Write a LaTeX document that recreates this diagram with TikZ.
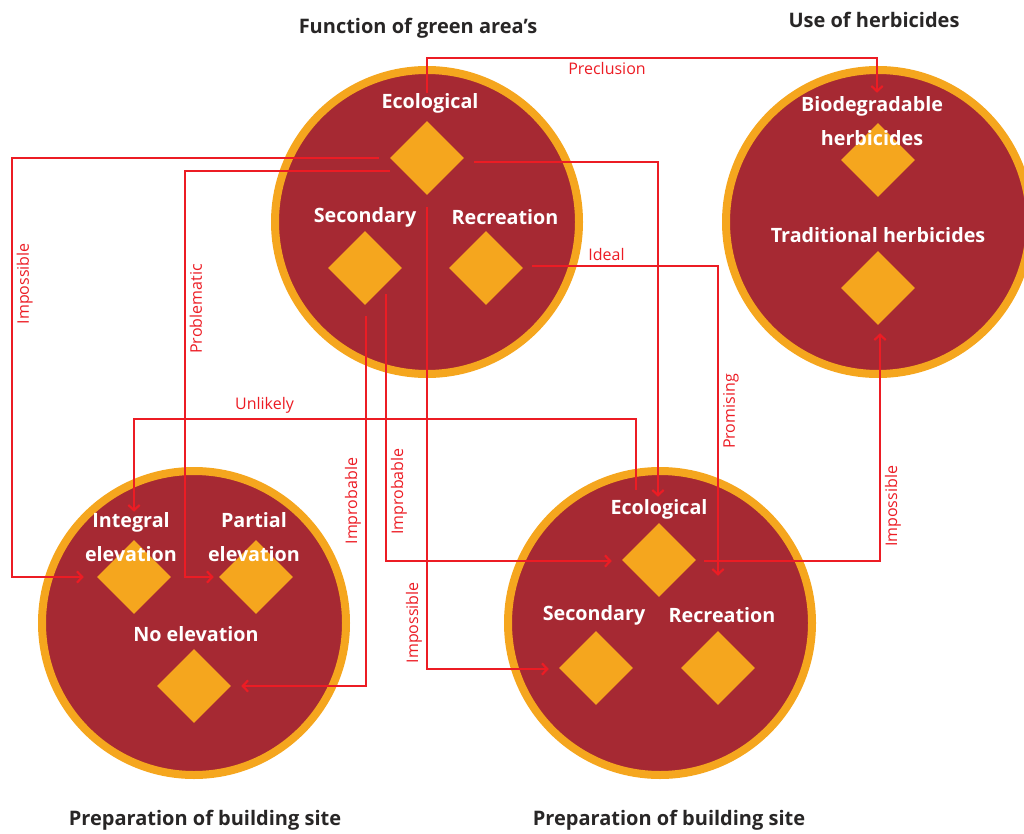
\documentclass[tikz,border=0pt]{standalone}
\usepackage{fontspec}
\setmainfont{Open Sans}
\usetikzlibrary{shapes.geometric,arrows.meta,calc}
\definecolor{wine}{RGB}{166,41,51}
\definecolor{amber}{RGB}{245,166,30}
\definecolor{signal}{RGB}{236,28,36}
\definecolor{ink}{RGB}{40,38,38}
\tikzset{
	ring/.style={circle, fill=wine, draw=amber, line width=6pt, minimum size=228pt, inner sep=0pt},
	gem/.style={diamond, fill=amber, minimum size=55.5pt, inner sep=0pt},
	tag/.style={text=white, font=\fontsize{14.8}{26}\selectfont\bfseries, align=center},
	heading/.style={text=ink, font=\fontsize{15}{16}\selectfont\bfseries},
	link/.style={draw=signal, line width=1.6pt, -{Straight Barb[length=4pt,width=8.5pt]}},
	note/.style={text=signal, font=\fontsize{12}{13}\selectfont, inner sep=3pt},
}

\begin{document}
\begin{tikzpicture}[x=0.75pt, y=-0.75pt]
	\useasboundingbox (0,0) rectangle (1024,834);

	% circles
	\node[ring] (green) at (427,222) {};
	\node[ring] (herb) at (878,222) {};
	\node[ring] (siteA) at (194,623) {};
	\node[ring] (siteB) at (660,623) {};

	% diamonds
	\node[gem] (eco1) at (427,158) {};
	\node[gem] (sec1) at (365,268) {};
	\node[gem] (rec1) at (486,268) {};
	\node[gem] (bio) at (878,160) {};
	\node[gem] (trad) at (878,288) {};
	\node[gem] (integ) at (134,577) {};
	\node[gem] (part) at (256,577) {};
	\node[gem] (noel) at (194,686) {};
	\node[gem] (eco2) at (659,560) {};
	\node[gem] (sec2) at (596,668) {};
	\node[gem] (rec2) at (718,668) {};

	% labels inside
	\node[tag] (leco1) at (430,103) {Ecological};
	\node[tag] (lsec1) at (365,217) {Secondary};
	\node[tag] (lrec1) at (505,217) {Recreation};
	\node[tag] (lbio) at (872,121) {Biodegradable\\herbicides};
	\node[tag] (ltrad) at (878,235) {Traditional herbicides};
	\node[tag] (linteg) at (131,537) {Integral\\elevation};
	\node[tag] (lpart) at (254,537) {Partial\\elevation};
	\node[tag] (lnoel) at (196,634) {No elevation};
	\node[tag] (leco2) at (659,509) {Ecological};
	\node[tag] (lsec2) at (594,615) {Secondary};
	\node[tag] (lrec2) at (722,615) {Recreation};

	% headings
	\node[heading] (hgreen) at (418,28) {Function of green area’s};
	\node[heading] (hherb) at (874,20) {Use of herbicides};
	\node[heading] (hsiteA) at (205,820) {Preparation of building site};
	\node[heading] (hsiteB) at (669,820) {Preparation of building site};

	% connectors
	\draw[link] ($(eco1.north)+(0,-28)$) -- ++(0,-35) -| ($(bio.north)+(-1,-30)$)
		node[note, pos=0.2, below] {Preclusion};
	\draw[link] ($(eco1.west)+(-11,0)$) -- ++(-367,0) |- ($(integ.west)+(-13,0)$)
		node[note, pos=0.15, rotate=90, anchor=north] {Impossible};
	\draw[link] ($(eco1.west)+(0,13)$) -- ++(-205,0) |- ($(part.west)+(-5,0)$)
		node[note, pos=0.17, rotate=90, anchor=north] {Problematic};
	\draw[link] ($(eco2.north)+(-23,-33)$) -- ++(0,-71) -| ($(integ.north)+(0,-28)$)
		node[note, pos=0.37, above] {Unlikely};
	\draw[link] ($(sec1.south)+(1,11)$) |- ($(noel.east)+(10,0)$)
		node[note, pos=0.25, rotate=90, anchor=south] {Improbable};
	\draw[link] ($(sec1.south)+(21,-11)$) |- ($(eco2.west)+(-10,1)$)
		node[note, pos=0.37, rotate=90, anchor=north] {Improbable};
	\draw[link] ($(eco1.south)+(0,12)$) |- ($(sec2.west)+(-10,1)$)
		node[note, pos=0.45, rotate=90, anchor=south] {Impossible};
	\draw[link] ($(eco1.east)+(10,4)$) -| ($(eco2.north)+(-1,-26)$);
	\draw[link] ($(rec1.east)+(9,-2)$) -| ($(rec2.north)+(0,-55)$)
		node[note, pos=0.2, above] {Ideal}
		node[note, pos=0.735, rotate=90, anchor=north] {Promising};
	\draw[link] ($(eco2.east)+(8,1)$) -| ($(trad.south)+(2,8)$)
		node[note, pos=0.62, rotate=90, anchor=north] {Impossible};
\end{tikzpicture}
\end{document}
